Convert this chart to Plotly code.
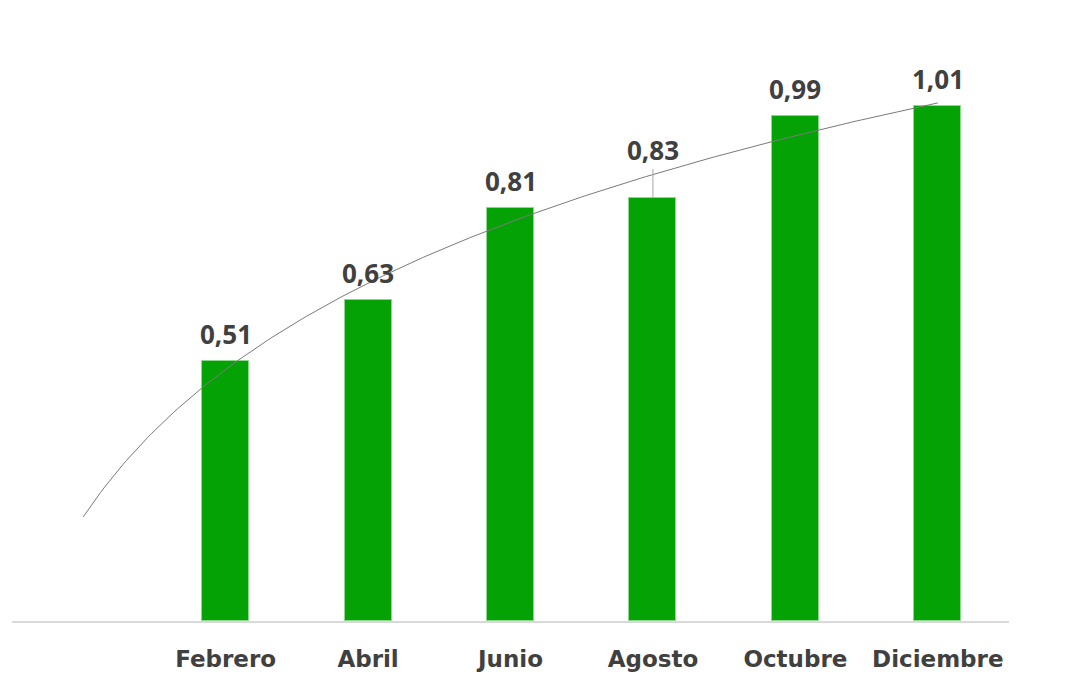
import numpy as np
import plotly.graph_objects as go

categories = ["Febrero", "Abril", "Junio", "Agosto", "Octubre", "Diciembre"]
values = [0.51, 0.63, 0.81, 0.83, 0.99, 1.01]
labels = ["0,51", "0,63", "0,81", "0,83", "0,99", "1,01"]

# categories are placed at indices 2..7 (index 1 is an empty slot)
xpos = np.arange(2, 2 + len(categories))

# logarithmic trendline fitted to the data (x index starting at 1)
a, b = np.polyfit(np.log(xpos), values, 1)
xt = np.linspace(1, 7, 200)
yt = a * np.log(xt) + b

label_font = "'Open Sans', sans-serif"
tick_font = "'DejaVu Sans', sans-serif"

fig = go.Figure()
fig.add_trace(go.Bar(
    x=xpos, y=values, width=0.33,
    marker=dict(color="#05A205", line=dict(color="#8fd68f", width=1)),
    hoverinfo="skip", showlegend=False,
))
fig.add_trace(go.Scatter(
    x=xt, y=yt, mode="lines",
    line=dict(color="#7a7a7a", width=1),
    hoverinfo="skip", showlegend=False,
))

for xi, v, lab in zip(xpos, values, labels):
    if lab == "0,83":
        fig.add_annotation(
            x=xi, y=v, text=f"<b>{lab}</b>", showarrow=True,
            arrowhead=0, arrowwidth=1, arrowcolor="#a6a6a6",
            ax=0, ay=-48, standoff=0,
            font=dict(family=label_font, size=26, color="#404040"),
        )
    else:
        fig.add_annotation(
            x=xi, y=v, text=f"<b>{lab}</b>", showarrow=False,
            yanchor="bottom", yshift=7,
            font=dict(family=label_font, size=26, color="#404040"),
        )

fig.update_layout(
    width=1066, height=680,
    margin=dict(l=4, r=65, t=32, b=67),
    plot_bgcolor="white", paper_bgcolor="white",
    bargap=0,
    xaxis=dict(
        range=[0.5, 7.5], tickmode="array", tickvals=xpos,
        ticktext=[f"<b>{c}</b>" for c in categories],
        showgrid=False, zeroline=False, showline=True,
        linecolor="#d9d9d9", linewidth=1.5, ticks="",
        tickfont=dict(family=tick_font, size=23, color="#404040"),
        ticklabelstandoff=17,
    ),
    yaxis=dict(
        range=[0, 1.139], visible=False, showgrid=False, zeroline=False,
    ),
)

fig.write_html("out.html")
